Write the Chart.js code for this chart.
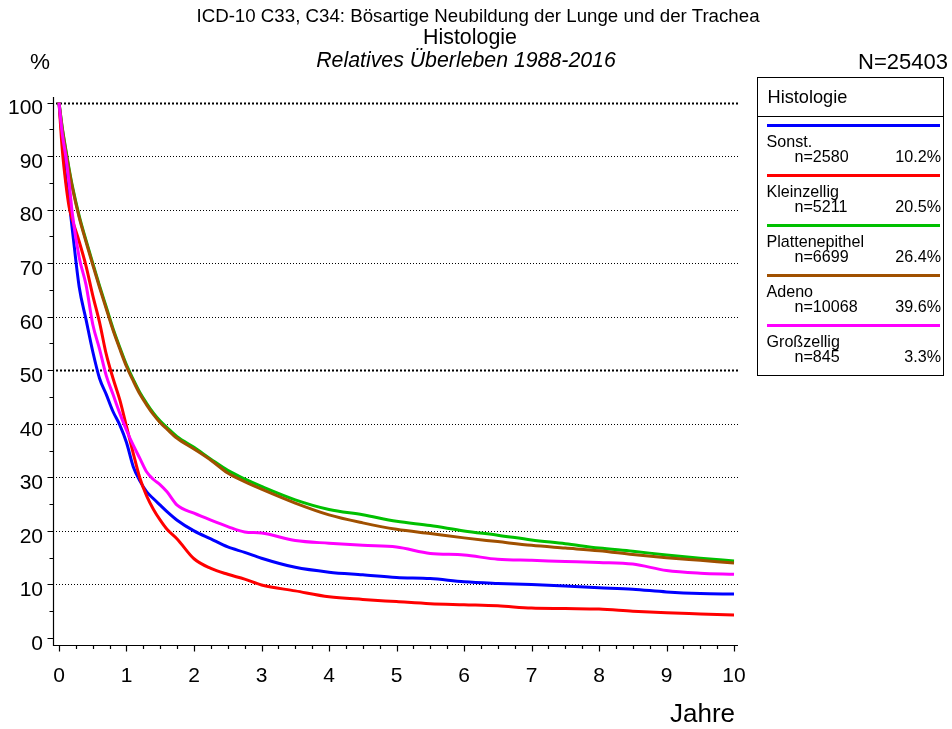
<!DOCTYPE html>
<html lang="de">
<head>
<meta charset="utf-8">
<title>Relatives Überleben – Histologie</title>
<script src="https://cdn.jsdelivr.net/npm/chart.js@4.4.1/dist/chart.umd.min.js"></script>
<style>
  html, body { margin: 0; padding: 0; background: #fff; }
  body { width: 952px; height: 729px; position: relative; overflow: hidden;
         font-family: "Liberation Sans", Arial, Helvetica, sans-serif; color: #000; }
  #chart { position: absolute; left: 0; top: 0; }
  .t { position: absolute; white-space: nowrap; }
  #legend { position: absolute; left: 757px; top: 77px; width: 187px; height: 299px;
            box-sizing: border-box; border: 1.5px solid #000; background: #fff; }
</style>
</head>
<body>
<canvas id="chart" width="952" height="729"></canvas>

<div class="t" id="title1" style="font-size:18.7px;line-height:18.7px;top:6.6px;left:478px;transform:translateX(-50%);"></div>
<div class="t" id="title2" style="font-size:21.4px;line-height:21.4px;top:27.3px;left:470px;transform:translateX(-50%);"></div>
<div class="t" id="title3" style="font-size:21.3px;line-height:21.3px;top:50.3px;left:466px;transform:translateX(-50%);font-style:italic;"></div>
<div class="t" id="unitLabel" style="font-size:22.5px;line-height:22.5px;top:50.7px;left:30px;"></div>
<div class="t" id="totalN" style="font-size:22px;line-height:22px;top:51px;right:4px;"></div>
<div class="t" id="xTitle" style="font-size:26px;line-height:26px;top:700px;left:670px;"></div>
<div id="legend"></div>

<script>
// Survival curves by histology, years since diagnosis
const years        = [0, 0.05, 0.1, 0.15, 0.2, 0.3, 0.4, 0.5, 0.6, 0.7, 0.8, 0.9, 1.0, 1.1, 1.2, 1.3, 1.4, 1.5, 1.6, 1.75, 2.0, 2.25, 2.5, 2.75, 3.0, 3.5, 4.0, 4.5, 5.0, 5.5, 6.0, 6.5, 7.0, 7.5, 8.0, 8.5, 9.0, 9.5, 10.0];
const sonst        = [100, 93, 86, 81.5, 76, 65.5, 59.5, 53.5, 48.5, 45.5, 42.3, 39.8, 36.5, 32, 29.3, 27.3, 26, 24.8, 23.6, 22, 20, 18.5, 17, 16, 14.9, 13.2, 12.3, 11.8, 11.3, 11.1, 10.5, 10.2, 10, 9.7, 9.4, 9.1, 8.6, 8.3, 8.2];
const kleinzellig  = [100, 91, 85, 80.5, 78, 74, 69.5, 64, 59, 53, 48.5, 44.5, 39.5, 34.5, 29.8, 26.5, 24, 22, 20.3, 18.5, 14.8, 13, 11.9, 11, 9.9, 8.8, 7.7, 7.2, 6.8, 6.4, 6.2, 6.0, 5.6, 5.5, 5.4, 5.0, 4.7, 4.5, 4.3];
const platten      = [100, 95.2, 91.3, 87.6, 84.3, 78.8, 74.3, 70, 65.8, 61.8, 57.8, 54.3, 51, 48.3, 45.8, 43.8, 42, 40.5, 39.3, 37.6, 35.6, 33.4, 31.3, 29.7, 28.3, 25.8, 24.0, 23.0, 21.8, 21.0, 20.0, 19.2, 18.3, 17.6, 16.8, 16.2, 15.5, 14.9, 14.4];
const adeno        = [100, 95, 91, 87.3, 84, 78.5, 74, 69.7, 65.5, 61.5, 57.5, 54, 50.7, 48, 45.5, 43.5, 41.7, 40.2, 39, 37.3, 35.3, 33.2, 30.8, 29.2, 27.8, 25.2, 23.0, 21.5, 20.3, 19.5, 18.7, 18.0, 17.3, 16.8, 16.3, 15.6, 15.0, 14.5, 14.0];
const grosszellig  = [100, 94, 90, 85, 79, 71, 66, 58.6, 54, 49, 45.5, 42, 38.8, 36, 33.5, 31, 29.6, 28.6, 27.3, 24.8, 23.3, 22, 20.8, 19.8, 19.6, 18.2, 17.7, 17.3, 17.0, 15.8, 15.5, 14.7, 14.5, 14.3, 14.1, 13.8, 12.6, 12.1, 11.9];

// Legend entries (legend order)
const groupNames   = ["Sonst.", "Kleinzellig", "Plattenepithel", "Adeno", "Großzellig"];
const groupN       = [2580, 5211, 6699, 10068, 845];
const groupPct     = ["10.2%", "20.5%", "26.4%", "39.6%", "3.3%"];
const groupColors  = ["#0000ff", "#ff0000", "#00c000", "#a05000", "#ff00ff"];
const groupValues  = [sonst, kleinzellig, platten, adeno, grosszellig];

// Axis ticks
const yMajorTicks  = [0, 10, 20, 30, 40, 50, 60, 70, 80, 90, 100];
const yMinorTicks  = [5, 15, 25, 35, 45, 55, 65, 75, 85, 95];
const xMajorTicks  = [0, 1, 2, 3, 4, 5, 6, 7, 8, 9, 10];
const xMinorStep   = 0.25;
const boldGrid     = [50, 100];

// Texts
document.getElementById("title1").textContent = "ICD-10 C33, C34: Bösartige Neubildung der Lunge und der Trachea";
document.getElementById("title2").textContent = "Histologie";
document.getElementById("title3").textContent = "Relatives Überleben 1988-2016";
document.getElementById("unitLabel").textContent = "%";
document.getElementById("totalN").textContent = "N=25403";
document.getElementById("xTitle").textContent = "Jahre";

// Legend box
(function buildLegend() {
  const box = document.getElementById("legend");
  const add = (css, text) => {
    const d = document.createElement("div");
    d.style.cssText = "position:absolute;white-space:nowrap;" + css;
    if (text !== undefined) d.textContent = text;
    box.appendChild(d);
    return d;
  };
  // coordinates inside the box (box origin = 757,77 incl. border)
  add("left:9.5px;top:9.5px;font-size:18.2px;line-height:18.2px;", "Histologie");
  add("left:0;right:0;top:37.5px;height:0;border-top:1.5px solid #000;");
  groupNames.forEach((name, i) => {
    const ly = 47.5 + i * 50;
    add(`left:8.5px;width:173px;top:${ly - 1.5}px;height:3px;background:${groupColors[i]};`);
    add(`left:8.5px;top:${ly + 15 - 8}px;font-size:16.1px;line-height:16px;`, name);
    add(`left:36.5px;top:${ly + 30 - 8}px;font-size:16.1px;line-height:16px;`, "n=" + groupN[i]);
    add(`right:2px;top:${ly + 30 - 8}px;font-size:16.1px;line-height:16px;`, groupPct[i]);
  });
})();

// Dotted grid, axis lines and tick marks drawn from the chart's scales
const axesPlugin = {
  id: "survivalAxes",
  beforeDatasetsDraw(chart) {
    const { ctx, chartArea, scales } = chart;
    const y = scales.y;
    ctx.save();
    ctx.strokeStyle = "#000";
    yMajorTicks.filter(v => v > 0).forEach(v => {
      const py = Math.round(y.getPixelForValue(v)) + 0.5;
      const bold = boldGrid.includes(v);
      ctx.lineWidth = bold ? 2 : 1;
      ctx.setLineDash(bold ? [2, 2] : [1, 2]);
      ctx.beginPath();
      ctx.moveTo(chartArea.left + 2, py);
      ctx.lineTo(chartArea.right, py);
      ctx.stroke();
    });
    ctx.restore();
  },
  afterDatasetsDraw(chart) {
    const { ctx, chartArea, scales } = chart;
    const x = scales.x, y = scales.y;
    const ax = Math.round(chartArea.left) - 0.5;
    const ay = Math.round(chartArea.bottom) + 0.5;
    ctx.save();
    ctx.strokeStyle = "#000";
    ctx.lineWidth = 1.2;
    ctx.setLineDash([]);
    ctx.beginPath();
    ctx.moveTo(ax, chartArea.top);
    ctx.lineTo(ax, ay);
    ctx.lineTo(chartArea.right, ay);
    ctx.stroke();
    // y tick marks
    ctx.beginPath();
    yMajorTicks.forEach(v => {
      const py = Math.round(y.getPixelForValue(v)) + 0.5;
      ctx.moveTo(ax - 6, py); ctx.lineTo(ax, py);
    });
    yMinorTicks.forEach(v => {
      const py = Math.round(y.getPixelForValue(v)) + 0.5;
      ctx.moveTo(ax - 4, py); ctx.lineTo(ax, py);
    });
    // x tick marks
    const xmax = xMajorTicks[xMajorTicks.length - 1];
    for (let k = 0; k * xMinorStep <= xmax + 1e-9; k++) {
      const v = k * xMinorStep;
      const major = Math.abs(v - Math.round(v)) < 1e-9;
      const px = Math.round(x.getPixelForValue(v)) + 0.5;
      ctx.moveTo(px, ay); ctx.lineTo(px, ay + (major ? 6 : 3.5));
    }
    ctx.stroke();
    ctx.restore();
  }
};

// Drawing order: first dataset is drawn on top
const drawOrder = [4, 3, 2, 1, 0];

new Chart(document.getElementById("chart"), {
  type: "line",
  data: {
    labels: years,
    datasets: drawOrder.map(i => ({
      label: groupNames[i],
      data: years.map((t, k) => ({ x: t, y: groupValues[i][k] })),
      borderColor: groupColors[i],
      backgroundColor: groupColors[i],
      borderWidth: 3,
      pointRadius: 0,
      fill: false,
      cubicInterpolationMode: "monotone",
      borderJoinStyle: "round"
    }))
  },
  options: {
    responsive: false,
    animation: false,
    devicePixelRatio: 1,
    layout: { padding: { left: 0, top: 97, right: 214, bottom: 0 } },
    plugins: { legend: { display: false }, title: { display: false }, tooltip: { enabled: false } },
    scales: {
      x: {
        type: "linear",
        min: -0.074,
        max: 10.059,
        grid: { display: false },
        border: { display: false },
        afterBuildTicks: s => { s.ticks = xMajorTicks.map(v => ({ value: v })); },
        afterFit: s => { s.height = 84; },
        ticks: {
          font: { family: "'Liberation Sans', Arial, sans-serif", size: 21 },
          color: "#000",
          padding: 11,
          maxRotation: 0,
          autoSkip: false
        }
      },
      y: {
        type: "linear",
        min: -1.307,
        max: 101.03,
        grid: { display: false },
        border: { display: false },
        afterBuildTicks: s => { s.ticks = yMajorTicks.map(v => ({ value: v })); },
        afterFit: s => { s.width = 54; },
        ticks: {
          font: { family: "'Liberation Sans', Arial, sans-serif", size: 21 },
          color: "#000",
          padding: 3,
          labelOffset: 6,
          autoSkip: false
        }
      }
    }
  },
  plugins: [axesPlugin]
});
</script>
</body>
</html>
